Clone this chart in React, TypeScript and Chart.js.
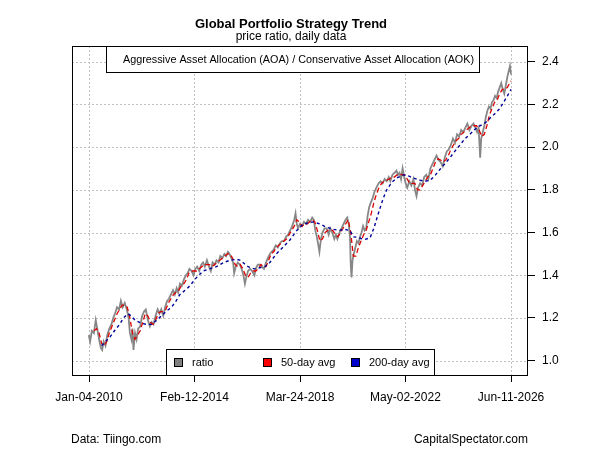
import { useEffect, useRef } from 'react'
import { Chart, registerables } from 'chart.js'
Chart.register(...registerables)

// [decimal year, value]
const ratio: [number, number][] = [
  [2010.0, 1.12], [2010.05, 1.09], [2010.12, 1.14], [2010.2, 1.13], [2010.27, 1.19], [2010.33, 1.15],
  [2010.4, 1.1], [2010.47, 1.06], [2010.52, 1.05], [2010.58, 1.09], [2010.65, 1.07], [2010.72, 1.12],
  [2010.8, 1.15], [2010.88, 1.17], [2010.95, 1.2], [2011.02, 1.22], [2011.1, 1.25], [2011.18, 1.24],
  [2011.25, 1.28], [2011.32, 1.25], [2011.4, 1.27], [2011.48, 1.24], [2011.55, 1.2], [2011.6, 1.13],
  [2011.66, 1.1], [2011.7, 1.15], [2011.74, 1.05], [2011.8, 1.13], [2011.86, 1.1], [2011.92, 1.15],
  [2012.0, 1.16], [2012.08, 1.21], [2012.15, 1.23], [2012.22, 1.24], [2012.3, 1.19], [2012.38, 1.16],
  [2012.45, 1.18], [2012.52, 1.17], [2012.6, 1.21], [2012.68, 1.24], [2012.75, 1.22], [2012.82, 1.24],
  [2012.9, 1.21], [2012.97, 1.25], [2013.05, 1.28], [2013.12, 1.29], [2013.2, 1.31], [2013.28, 1.33],
  [2013.35, 1.31], [2013.42, 1.34], [2013.48, 1.32], [2013.55, 1.36], [2013.62, 1.35], [2013.7, 1.38],
  [2013.78, 1.4], [2013.85, 1.41], [2013.92, 1.43], [2014.0, 1.42], [2014.08, 1.4], [2014.15, 1.43],
  [2014.22, 1.44], [2014.3, 1.42], [2014.38, 1.45], [2014.45, 1.46], [2014.52, 1.44], [2014.6, 1.47],
  [2014.68, 1.44], [2014.75, 1.42], [2014.82, 1.46], [2014.9, 1.45], [2014.97, 1.47], [2015.05, 1.46],
  [2015.12, 1.49], [2015.2, 1.48], [2015.28, 1.5], [2015.35, 1.49], [2015.42, 1.51], [2015.48, 1.5],
  [2015.55, 1.48], [2015.62, 1.46], [2015.66, 1.41], [2015.72, 1.44], [2015.8, 1.46], [2015.88, 1.45],
  [2015.95, 1.43], [2016.02, 1.4], [2016.08, 1.36], [2016.13, 1.39], [2016.2, 1.42], [2016.28, 1.43],
  [2016.36, 1.42], [2016.45, 1.4], [2016.5, 1.43], [2016.58, 1.45], [2016.66, 1.45], [2016.74, 1.44],
  [2016.82, 1.43], [2016.9, 1.46], [2016.97, 1.48], [2017.05, 1.5], [2017.12, 1.51], [2017.2, 1.52],
  [2017.28, 1.54], [2017.36, 1.53], [2017.44, 1.55], [2017.52, 1.56], [2017.6, 1.56], [2017.68, 1.58],
  [2017.76, 1.59], [2017.84, 1.61], [2017.92, 1.63], [2018.0, 1.66], [2018.05, 1.69], [2018.1, 1.64],
  [2018.15, 1.62], [2018.22, 1.64], [2018.3, 1.63], [2018.38, 1.65], [2018.46, 1.64], [2018.54, 1.66],
  [2018.62, 1.65], [2018.7, 1.67], [2018.76, 1.66], [2018.82, 1.61], [2018.88, 1.58], [2018.94, 1.54],
  [2018.98, 1.51], [2019.04, 1.57], [2019.1, 1.6], [2019.18, 1.62], [2019.26, 1.62], [2019.34, 1.59],
  [2019.4, 1.62], [2019.48, 1.6], [2019.56, 1.57], [2019.62, 1.59], [2019.68, 1.57], [2019.76, 1.6],
  [2019.84, 1.62], [2019.92, 1.64], [2020.0, 1.66], [2020.06, 1.67], [2020.12, 1.64], [2020.17, 1.58],
  [2020.2, 1.45], [2020.23, 1.39], [2020.27, 1.47], [2020.32, 1.5], [2020.38, 1.53], [2020.44, 1.56],
  [2020.5, 1.55], [2020.56, 1.58], [2020.62, 1.6], [2020.68, 1.63], [2020.74, 1.61], [2020.8, 1.62],
  [2020.86, 1.68], [2020.92, 1.72], [2020.98, 1.74], [2021.05, 1.76], [2021.12, 1.79], [2021.2, 1.81],
  [2021.28, 1.83], [2021.36, 1.84], [2021.44, 1.83], [2021.52, 1.85], [2021.6, 1.84], [2021.68, 1.86],
  [2021.74, 1.84], [2021.82, 1.87], [2021.9, 1.88], [2021.98, 1.89], [2022.04, 1.87], [2022.1, 1.88],
  [2022.16, 1.85], [2022.22, 1.9], [2022.28, 1.86], [2022.34, 1.83], [2022.4, 1.81], [2022.48, 1.84],
  [2022.56, 1.82], [2022.64, 1.85], [2022.7, 1.8], [2022.76, 1.77], [2022.82, 1.81], [2022.9, 1.83],
  [2022.98, 1.82], [2023.06, 1.86], [2023.14, 1.87], [2023.22, 1.85], [2023.3, 1.9], [2023.38, 1.92],
  [2023.46, 1.94], [2023.54, 1.96], [2023.62, 1.94], [2023.7, 1.93], [2023.78, 1.91], [2023.86, 1.95],
  [2023.94, 1.98], [2024.02, 1.99], [2024.1, 2.01], [2024.18, 2.04], [2024.26, 2.02], [2024.34, 2.06],
  [2024.42, 2.05], [2024.5, 2.08], [2024.58, 2.07], [2024.66, 2.09], [2024.74, 2.11], [2024.82, 2.08],
  [2024.9, 2.1], [2024.98, 2.11], [2025.06, 2.09], [2025.12, 2.07], [2025.18, 2.09], [2025.24, 1.95],
  [2025.28, 2.04], [2025.34, 2.07], [2025.4, 2.1], [2025.46, 2.14], [2025.52, 2.17], [2025.58, 2.19],
  [2025.64, 2.18], [2025.7, 2.21], [2025.76, 2.22], [2025.82, 2.24], [2025.88, 2.23], [2025.94, 2.26],
  [2026.0, 2.28], [2026.06, 2.3], [2026.12, 2.27], [2026.18, 2.25], [2026.24, 2.29], [2026.3, 2.33],
  [2026.36, 2.36], [2026.4, 2.38], [2026.44, 2.34],
]

const avg50: [number, number][] = [
  [2010.2, 1.14], [2010.3, 1.15], [2010.4, 1.13], [2010.5, 1.08], [2010.6, 1.07], [2010.7, 1.09],
  [2010.8, 1.13], [2010.9, 1.16], [2011.0, 1.19], [2011.1, 1.22], [2011.2, 1.24], [2011.3, 1.26],
  [2011.4, 1.26], [2011.5, 1.25], [2011.6, 1.2], [2011.7, 1.13], [2011.8, 1.1], [2011.9, 1.12],
  [2012.0, 1.14], [2012.1, 1.18], [2012.2, 1.22], [2012.3, 1.21], [2012.4, 1.18], [2012.5, 1.17],
  [2012.6, 1.19], [2012.7, 1.22], [2012.8, 1.23], [2012.9, 1.23], [2013.0, 1.24], [2013.1, 1.27],
  [2013.2, 1.29], [2013.3, 1.31], [2013.4, 1.32], [2013.5, 1.33], [2013.6, 1.35], [2013.7, 1.36],
  [2013.8, 1.38], [2013.9, 1.41], [2014.0, 1.42], [2014.1, 1.42], [2014.2, 1.42], [2014.3, 1.43],
  [2014.4, 1.44], [2014.5, 1.45], [2014.6, 1.45], [2014.7, 1.45], [2014.8, 1.44], [2014.9, 1.45],
  [2015.0, 1.46], [2015.1, 1.47], [2015.2, 1.48], [2015.3, 1.49], [2015.4, 1.5], [2015.5, 1.5],
  [2015.6, 1.48], [2015.7, 1.45], [2015.8, 1.44], [2015.9, 1.45], [2016.0, 1.43], [2016.1, 1.4],
  [2016.2, 1.39], [2016.3, 1.41], [2016.4, 1.42], [2016.5, 1.42], [2016.6, 1.43], [2016.7, 1.45],
  [2016.8, 1.44], [2016.9, 1.44], [2017.0, 1.47], [2017.1, 1.5], [2017.2, 1.51], [2017.3, 1.53],
  [2017.4, 1.54], [2017.5, 1.55], [2017.6, 1.56], [2017.7, 1.57], [2017.8, 1.59], [2017.9, 1.61],
  [2018.0, 1.63], [2018.1, 1.66], [2018.2, 1.65], [2018.3, 1.63], [2018.4, 1.64], [2018.5, 1.64],
  [2018.6, 1.65], [2018.7, 1.66], [2018.8, 1.65], [2018.9, 1.61], [2019.0, 1.56], [2019.1, 1.57],
  [2019.2, 1.6], [2019.3, 1.61], [2019.4, 1.61], [2019.5, 1.61], [2019.6, 1.59], [2019.7, 1.58],
  [2019.8, 1.6], [2019.9, 1.62], [2020.0, 1.64], [2020.1, 1.66], [2020.2, 1.6], [2020.3, 1.49],
  [2020.4, 1.49], [2020.5, 1.53], [2020.6, 1.56], [2020.7, 1.59], [2020.8, 1.61], [2020.9, 1.65],
  [2021.0, 1.69], [2021.1, 1.74], [2021.2, 1.78], [2021.3, 1.81], [2021.4, 1.83], [2021.5, 1.84],
  [2021.6, 1.845], [2021.7, 1.85], [2021.8, 1.86], [2021.9, 1.86], [2022.0, 1.87], [2022.1, 1.875],
  [2022.2, 1.87], [2022.3, 1.87], [2022.4, 1.85], [2022.5, 1.83], [2022.6, 1.83], [2022.7, 1.83],
  [2022.8, 1.8], [2022.9, 1.8], [2023.0, 1.82], [2023.1, 1.84], [2023.2, 1.86], [2023.3, 1.87],
  [2023.4, 1.9], [2023.5, 1.93], [2023.6, 1.945], [2023.7, 1.94], [2023.8, 1.93], [2023.9, 1.94],
  [2024.0, 1.96], [2024.1, 1.99], [2024.2, 2.01], [2024.3, 2.03], [2024.4, 2.04], [2024.5, 2.06],
  [2024.6, 2.07], [2024.7, 2.08], [2024.8, 2.09], [2024.9, 2.1], [2025.0, 2.1], [2025.1, 2.1],
  [2025.2, 2.08], [2025.3, 2.05], [2025.4, 2.06], [2025.5, 2.1], [2025.6, 2.15], [2025.7, 2.18],
  [2025.8, 2.21], [2025.9, 2.22], [2026.0, 2.25], [2026.1, 2.27], [2026.2, 2.27], [2026.3, 2.28],
  [2026.44, 2.31],
]

const avg200: [number, number][] = [
  [2010.5, 1.07], [2010.65, 1.09], [2010.82, 1.11], [2011.0, 1.14], [2011.2, 1.17], [2011.35, 1.2],
  [2011.53, 1.22], [2011.65, 1.21], [2011.8, 1.19], [2012.05, 1.175], [2012.25, 1.17], [2012.44, 1.17],
  [2012.65, 1.19], [2012.83, 1.21], [2013.0, 1.23], [2013.22, 1.25], [2013.4, 1.28], [2013.55, 1.31],
  [2013.75, 1.33], [2013.93, 1.35], [2014.2, 1.39], [2014.45, 1.42], [2014.7, 1.43], [2014.97, 1.44],
  [2015.25, 1.46], [2015.5, 1.47], [2015.75, 1.475], [2015.9, 1.47], [2016.05, 1.455], [2016.2, 1.44],
  [2016.45, 1.43], [2016.66, 1.435], [2016.86, 1.44], [2017.05, 1.46], [2017.3, 1.5], [2017.55, 1.53],
  [2017.83, 1.565], [2018.1, 1.61], [2018.35, 1.64], [2018.55, 1.645], [2018.74, 1.65], [2019.0, 1.64],
  [2019.25, 1.625], [2019.52, 1.615], [2019.75, 1.61], [2019.95, 1.615], [2020.17, 1.61], [2020.3, 1.58],
  [2020.45, 1.578], [2020.6, 1.572], [2020.75, 1.568], [2020.95, 1.575], [2021.1, 1.62], [2021.25, 1.68],
  [2021.45, 1.755], [2021.6, 1.8], [2021.8, 1.835], [2021.99, 1.855], [2022.25, 1.87], [2022.45, 1.865],
  [2022.64, 1.855], [2022.9, 1.845], [2023.1, 1.84], [2023.3, 1.845], [2023.5, 1.87], [2023.67, 1.895],
  [2023.85, 1.92], [2024.06, 1.95], [2024.25, 1.98], [2024.45, 2.01], [2024.65, 2.04], [2024.84, 2.06],
  [2025.05, 2.085], [2025.23, 2.1], [2025.45, 2.115], [2025.62, 2.135], [2025.8, 2.155], [2026.0, 2.18],
  [2026.15, 2.21], [2026.3, 2.24], [2026.44, 2.27],
]

const xTickPos = [2010.008, 2014.115, 2018.225, 2022.33, 2026.44]
const xTickLabels = ['Jan-04-2010', 'Feb-12-2014', 'Mar-24-2018', 'May-02-2022', 'Jun-11-2026']
const yTicks = [1.0, 1.2, 1.4, 1.6, 1.8, 2.0, 2.2, 2.4]
const legendItems = [
  { label: 'ratio', color: '#808080' },
  { label: '50-day avg', color: '#ff0000' },
  { label: '200-day avg', color: '#0000cc' },
]

const FONT = '"Liberation Sans", Arial, sans-serif'

const decor = {
  id: 'decor',
  beforeDatasetsDraw(chart: any) {
    const { ctx, chartArea: a, scales } = chart
    ctx.save()
    ctx.strokeStyle = '#c0c0c0'
    ctx.lineWidth = 1
    ctx.setLineDash([2, 2])
    xTickPos.forEach((v) => {
      const x = Math.round(scales.x.getPixelForValue(v)) + 0.5
      ctx.beginPath()
      ctx.moveTo(x, a.top)
      ctx.lineTo(x, a.bottom)
      ctx.stroke()
    })
    yTicks.forEach((v) => {
      const y = Math.round(scales.y.getPixelForValue(v)) + 0.5
      ctx.beginPath()
      ctx.moveTo(a.left, y)
      ctx.lineTo(a.right, y)
      ctx.stroke()
    })
    ctx.restore()
  },
  afterDatasetsDraw(chart: any) {
    const { ctx, chartArea: a } = chart
    ctx.save()
    ctx.setLineDash([])
    ctx.strokeStyle = '#000'
    ctx.lineWidth = 1

    // top label box
    ctx.fillStyle = '#fff'
    ctx.fillRect(106, a.top, 373, 26)
    ctx.strokeRect(106.5, a.top + 0.5, 373, 26)
    ctx.fillStyle = '#000'
    ctx.font = `10.8px ${FONT}`
    ctx.textBaseline = 'middle'
    ctx.textAlign = 'left'
    ctx.fillText('Aggressive Asset Allocation (AOA) / Conservative Asset Allocation (AOK)', 123, a.top + 14)

    // bottom legend
    ctx.font = `11px ${FONT}`
    ctx.fillStyle = '#fff'
    ctx.fillRect(166, 349, 268, a.bottom - 349)
    ctx.strokeRect(166.5, 349.5, 268, a.bottom - 349)
    const xs = [174, 263, 351]
    legendItems.forEach((it, i) => {
      ctx.fillStyle = it.color
      ctx.fillRect(xs[i] + 0.5, 358.5, 8, 8)
      ctx.strokeRect(xs[i] + 0.5, 358.5, 8, 8)
      ctx.fillStyle = '#000'
      ctx.fillText(it.label, xs[i] + 18, 363)
    })

    // plot frame
    ctx.strokeRect(a.left + 0.5, a.top + 0.5, a.right - a.left, a.bottom - a.top)

    // titles
    ctx.textAlign = 'center'
    ctx.font = `bold 13px ${FONT}`
    ctx.fillText('Global Portfolio Strategy Trend', 291, 24)
    ctx.font = `12px ${FONT}`
    ctx.fillText('price ratio, daily data', 291, 37)

    // footers
    ctx.textAlign = 'left'
    ctx.fillText('Data: Tiingo.com', 71, 440)
    ctx.textAlign = 'right'
    ctx.fillText('CapitalSpectator.com', 528, 440)
    ctx.restore()
  },
}

const toPts = (s: [number, number][]) => s.map(([x, y]) => ({ x, y }))

const App = () => {
  const canvas = useRef<HTMLCanvasElement>(null)
  useEffect(() => {
    const chart = new Chart(canvas.current as HTMLCanvasElement, {
      type: 'line',
      data: {
        datasets: [
          {
            label: '200-day avg',
            data: toPts(avg200),
            borderColor: '#00009a',
            borderWidth: 1.4,
            borderDash: [3, 3],
            pointRadius: 0,
            order: 1,
          },
          {
            label: '50-day avg',
            data: toPts(avg50),
            borderColor: '#dd0000',
            borderWidth: 1.3,
            borderDash: [5, 3],
            pointRadius: 0,
            order: 2,
          },
          {
            label: 'ratio',
            data: toPts(ratio),
            borderColor: '#878787',
            borderWidth: 1.8,
            pointRadius: 0,
            order: 3,
          },
        ],
      },
      options: {
        responsive: false,
        animation: false,
        layout: { padding: { left: 72, top: 46, right: 0, bottom: 0 } },
        plugins: { legend: { display: false }, tooltip: { enabled: false }, title: { display: false } },
        scales: {
          x: {
            type: 'linear',
            min: 2009.346,
            max: 2027.063,
            afterBuildTicks: (s: any) => { s.ticks = xTickPos.map((v) => ({ value: v })) },
            afterFit: (s: any) => { s.height = 75 },
            ticks: {
              autoSkip: false,
              maxRotation: 0,
              padding: 8,
              color: '#000',
              font: { family: FONT, size: 12 },
              callback: (_v: any, i: number) => xTickLabels[i],
            },
            grid: { drawOnChartArea: false, drawTicks: true, tickLength: 7, tickColor: '#000' },
            border: { display: false },
          },
          y: {
            position: 'right',
            min: 0.933,
            max: 2.4735,
            afterBuildTicks: (s: any) => { s.ticks = yTicks.map((v) => ({ value: v })) },
            afterFit: (s: any) => { s.width = 73 },
            ticks: {
              padding: 7,
              color: '#000',
              font: { family: FONT, size: 12 },
              callback: (v: any) => Number(v).toFixed(1),
            },
            grid: { drawOnChartArea: false, drawTicks: true, tickLength: 8, tickColor: '#000' },
            border: { display: false },
          },
        },
      },
      plugins: [decor],
    })
    return () => chart.destroy()
  }, [])
  return (
    <div style={{ position: 'fixed', left: 0, top: 0, width: 600, height: 450, background: '#fff' }}>
      <canvas ref={canvas} width={600} height={450}></canvas>
    </div>
  )
}

export default App
